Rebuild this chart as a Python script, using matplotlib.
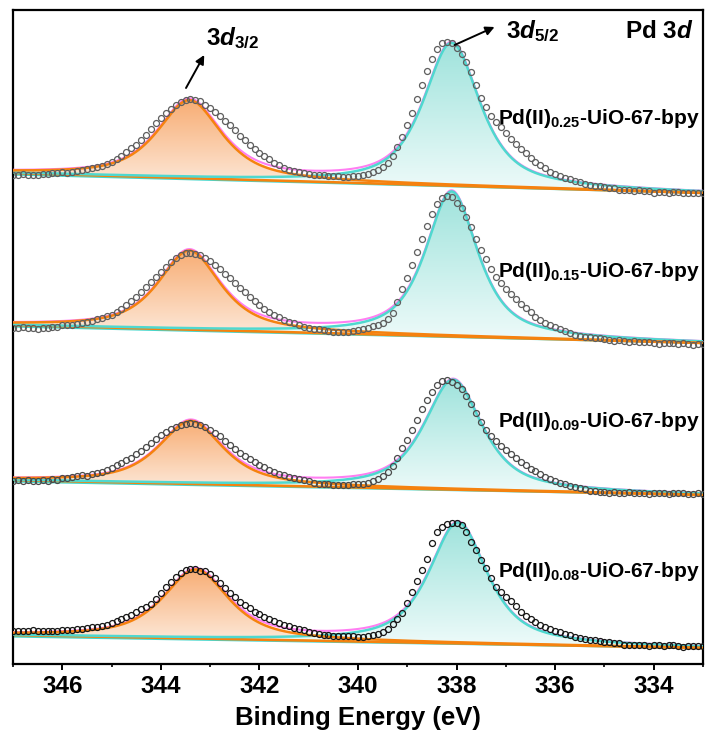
"""Pd 3d XPS spectra of Pd(II)x-UiO-67-bpy samples with peak fits."""

import numpy as np
import matplotlib

matplotlib.use("Agg")

import matplotlib.pyplot as plt
from matplotlib.colors import LinearSegmentedColormap
from matplotlib.path import Path

plt.rcParams["font.family"] = "Liberation Sans"
plt.rcParams["font.weight"] = "bold"
plt.rcParams["mathtext.fontset"] = "custom"
plt.rcParams["mathtext.rm"] = "Liberation Sans:bold"
plt.rcParams["mathtext.bf"] = "Liberation Sans:bold"
plt.rcParams["mathtext.it"] = "Liberation Sans:italic:bold"
plt.rcParams["mathtext.default"] = "regular"

# ---- data -------------------------------------------------------------
loadings = ["0.25", "0.15", "0.09", "0.08"]

# measured counts (offset units) above the background, 347.0 -> 333.0 eV in 0.1 eV steps
counts_025 = [
    -2, -2, -1, -2, -1, -1, 0, 0, 1, 1, 2, 2, 3, 4, 5, 6, 7, 8, 10, 12,
    14, 17, 20, 24, 28, 32, 37, 42, 48, 54, 59, 64, 69, 73, 76, 78, 79,
    78, 77, 74, 71, 67, 63, 58, 54, 49, 44, 40, 35, 31, 27, 24, 21, 18, 16, 13, 11,
    10, 9, 8, 8, 7, 7, 7, 6, 6, 6, 6, 6, 7, 7, 8, 9, 11, 14, 17, 21,
    28, 37, 47, 59, 72, 86, 100, 114, 126, 136, 142, 144,
    143, 138, 132, 124, 114, 101, 89, 80, 71, 65, 60, 54, 48, 44, 39, 35, 30, 26, 23, 20,
    17, 15, 13, 11, 10, 8, 7, 6, 5, 4, 4, 3, 2, 2, 1, 1, 1, 0, 1, 0,
    0, -1, 0, 0, -1, 0, 0, -1, 0, 0, 0, 0,
]
counts_015 = [
    -3, -3, -2, -3, -2, -3, -2, -2, -1, -1, 1, 1, 2, 3, 4, 5, 6, 8, 9, 11,
    13, 16, 19, 23, 27, 31, 36, 41, 47, 52, 57, 62, 67, 71, 74, 76, 77,
    76, 75, 72, 69, 65, 61, 57, 53, 48, 43, 39, 34, 30, 26, 23, 20, 17, 15, 12, 10,
    9, 7, 6, 5, 4, 4, 3, 2, 1, 1, 2, 2, 3, 4, 5, 6, 8, 10, 12, 16,
    22, 33, 46, 57, 70, 84, 97, 110, 122, 132, 138, 140,
    139, 134, 129, 120, 110, 98, 87, 78, 68, 61, 55, 49, 44, 39, 34, 30, 26, 22, 19, 16,
    14, 12, 10, 8, 7, 5, 4, 3, 3, 2, 2, 1, 1, 0, 1, 0, -1, 0, -1, -1,
    0, -1, -2, -1, -1, -1, -2, -1, -1, -2, -1, -1,
]
counts_009 = [
    -1, 0, -1, 0, -1, 0, 1, 0, 2, 1, 3, 3, 4, 5, 6, 6, 8, 9, 10, 12,
    14, 17, 19, 22, 25, 29, 32, 36, 40, 44, 48, 51, 54, 57, 59, 60, 61,
    60, 59, 57, 54, 51, 48, 44, 40, 36, 32, 29, 26, 23, 20, 18, 16, 14, 12, 11, 9,
    8, 7, 6, 5, 4, 3, 3, 3, 2, 2, 2, 2, 3, 3, 4, 5, 7, 9, 12, 16,
    22, 30, 40, 49, 59, 69, 80, 89, 97, 104, 108, 109,
    108, 105, 101, 94, 86, 77, 68, 60, 54, 49, 45, 41, 37, 33, 29, 26, 22, 20, 17, 15,
    13, 11, 9, 8, 6, 5, 4, 3, 2, 2, 1, 1, 0, 1, 0, 0, 1, 0, 1, 1,
    0, 1, 1, 1, 0, 1, 1, 2, 1, 1, 2, 1,
]
counts_008 = [
    4, 4, 4, 4, 5, 4, 5, 5, 5, 5, 6, 6, 6, 7, 7, 8, 9, 10, 11, 12,
    14, 16, 18, 20, 22, 25, 28, 31, 34, 39, 45, 51, 56, 61, 65, 68, 69, 69,
    68, 68, 65, 61, 56, 51, 46, 42, 37, 34, 31, 28, 26, 23, 21, 19, 17, 15, 14, 12,
    11, 10, 9, 8, 7, 6, 6, 5, 5, 5, 5, 5, 5, 5, 6, 7, 8, 10, 13, 18,
    23, 29, 39, 51, 62, 73, 84, 100, 111, 116, 119, 120,
    120, 118, 112, 102, 94, 84, 76, 66, 57, 52, 47, 43, 38, 33, 29, 26, 23, 20, 18, 16,
    14, 13, 11, 10, 9, 8, 7, 6, 6, 5, 4, 4, 3, 3, 2, 2, 2, 2, 2, 1,
    2, 2, 1, 2, 2, 2, 1, 2, 2, 2, 2,
]
counts = [counts_025, counts_015, counts_009, counts_008]

# Shirley-type background (left end at 347 eV, right end at 333 eV)
bg_left = [492, 340, 185, 30]
bg_right = [472, 322, 170, 17]

# fitted components: Pd 3d3/2 and Pd 3d5/2
center_32 = [343.42, 343.42, 343.39, 343.29]
height_32 = [78, 79, 63, 69]
fwhm_32 = [1.55, 1.50, 1.55, 1.58]
center_52 = [338.10, 338.10, 338.07, 337.97]
height_52 = [143, 145, 110, 121]
fwhm_52 = [1.36, 1.26, 1.40, 1.40]
lorentz_share = 0.75

marker_colors = ["#5e5e5e", "#5e5e5e", "#4a4a4a", "#151515"]

BE_HI, BE_LO = 347.0, 333.0


def pseudo_voigt(x, center, height, fwhm, eta):
    u = (x - center) / (fwhm / 2)
    return height * (eta / (1 + u ** 2) + (1 - eta) * np.exp(-np.log(2) * u ** 2))


def background(x, left, right):
    return left + (right - left) * (BE_HI - x) / (BE_HI - BE_LO)


def gradient_fill(ax, x, lower, upper, c_top, c_bottom):
    verts = np.concatenate([np.column_stack([x, upper]),
                            np.column_stack([x[::-1], lower[::-1]])])
    clip = Path(verts)
    cmap = LinearSegmentedColormap.from_list("grad", [c_bottom, c_top])
    grad = np.linspace(0, 1, 256).reshape(-1, 1)
    im = ax.imshow(grad, cmap=cmap, aspect="auto", origin="lower",
                   extent=[x.min(), x.max(), lower.min(), upper.max()],
                   interpolation="bilinear", zorder=1)
    im.set_clip_path(clip, transform=ax.transData)


fig = plt.figure(figsize=(7.07, 7.40), dpi=100)
ax = fig.add_axes([0.0184, 0.1027, 0.9760, 0.8838])

x_fit = np.linspace(BE_HI, BE_LO, 900)
x_meas = np.linspace(BE_HI, BE_LO, 141)

for k in range(4):
    bg = background(x_fit, bg_left[k], bg_right[k])
    p32 = pseudo_voigt(x_fit, center_32[k], height_32[k], fwhm_32[k], lorentz_share)
    p52 = pseudo_voigt(x_fit, center_52[k], height_52[k], fwhm_52[k], lorentz_share)

    gradient_fill(ax, x_fit, bg, bg + p32, "#f8ad74", "#fdeee2")
    gradient_fill(ax, x_fit, bg, bg + p52, "#9fe3dc", "#effbfa")

    ax.plot(x_fit, bg - 1.5 * (x_fit - BE_LO) / (BE_HI - BE_LO), color="#45d6cc", lw=1.6, zorder=2)
    ax.plot(x_fit, bg, color="#f5820f", lw=1.9, zorder=2.2)
    ax.plot(x_fit, bg + p32 + p52, color="#ff7ef2", lw=1.5, zorder=3)
    ax.plot(x_fit, bg + p52, color="#4fd8cf", lw=1.8, zorder=3.5)
    ax.plot(x_fit, bg + p32, color="#f5820f", lw=1.8, zorder=3.5)

    y_meas = background(x_meas, bg_left[k], bg_right[k]) + np.asarray(counts[k])
    ax.plot(x_meas, y_meas, "o", mfc="none", mec=marker_colors[k], ms=4.3, mew=0.9, zorder=4)

label_y = [541, 388, 238, 88]
for k in range(4):
    ax.text(333.06, label_y[k], rf"Pd(II)$_{{{loadings[k]}}}$-UiO-67-bpy",
            ha="right", va="baseline", fontsize=15, fontweight="bold", zorder=6)

arrow = dict(arrowstyle="-|>", color="black", lw=1.4, mutation_scale=13, shrinkA=0, shrinkB=0)
ax.annotate("", xy=(343.12, 610), xytext=(343.49, 577), arrowprops=arrow, zorder=6)
ax.annotate("", xy=(337.23, 638), xytext=(338.04, 620), arrowprops=arrow, zorder=6)
ax.text(343.08, 620, r"3$\mathit{d}_{3/2}$", ha="left", va="baseline", fontsize=17.5, zorder=6)
ax.text(337.00, 627, r"3$\mathit{d}_{5/2}$", ha="left", va="baseline", fontsize=17.5, zorder=6)
ax.text(333.2, 627, r"Pd 3$\mathit{d}$", ha="right", va="baseline", fontsize=17.5, zorder=6)

ax.set_xlim(BE_HI, BE_LO)
ax.set_ylim(1, 655)
ax.set_xticks([346, 344, 342, 340, 338, 336, 334])
ax.set_xticks(np.arange(333, 348, 1), minor=True)
ax.set_yticks([])
ax.tick_params(axis="x", which="major", direction="out", length=4, width=1.4, pad=4, labelsize=17.5)
ax.tick_params(axis="x", which="minor", direction="out", length=2.5, width=1.2)
for lbl in ax.get_xticklabels():
    lbl.set_fontweight("bold")
for spine in ax.spines.values():
    spine.set_linewidth(1.6)
ax.set_xlabel("Binding Energy (eV)", fontsize=18.5, fontweight="bold", labelpad=6)

fig.savefig("out.png", dpi=100)
